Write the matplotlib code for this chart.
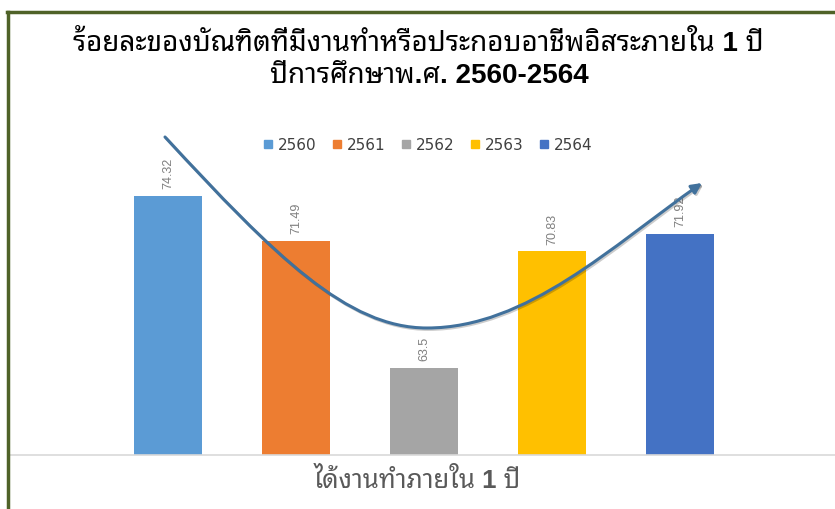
import matplotlib
matplotlib.use('Agg')
from matplotlib import pyplot as plt
from matplotlib.path import Path
from matplotlib.patches import FancyArrowPatch
from matplotlib.lines import Line2D
import matplotlib.patheffects as pe

years = ['2560', '2561', '2562', '2563', '2564']
values = [74.32, 71.49, 63.5, 70.83, 71.92]
colors = ['#5B9BD5', '#ED7D31', '#A5A5A5', '#FFC000', '#4472C4']
title1 = 'ร้อยละของบัณฑิตที่มีงานทำหรือประกอบอาชีพอิสระภายใน 1 ปี'
title2 = 'ปีการศึกษาพ.ศ. 2560-2564'
xlabel = 'ได้งานทำภายใน 1 ปี'

thai = ['Liberation Sans', 'Noto Sans Thai Looped', 'DejaVu Sans']
W, H = 835, 509
fig = plt.figure(figsize=(W / 100, H / 100), dpi=100)

ax = fig.add_axes([10 / W, 1 - 455 / H, 1 - 10 / W, (455 - 137) / H])
x = list(range(len(years)))
bars = ax.bar(x, values, width=68 / 128, color=colors, zorder=2)
for xi, v in zip(x, values):
    ax.annotate(f'{v:g}', (xi, v), xytext=(0, 4.5), textcoords='offset points',
                rotation=90, ha='center', va='bottom', fontsize=9,
                color='#7F7F7F', family='Liberation Sans')
ax.set_xlim(-1.234, 5.211)
ax.set_ylim(58, 78)
for s in ['top', 'right', 'left']:
    ax.spines[s].set_visible(False)
ax.spines['bottom'].set_color('#D9D9D9')
ax.spines['bottom'].set_linewidth(1.2)
ax.set_xticks([])
ax.set_yticks([])

# legend
handles = [Line2D([], [], marker='s', linestyle='none', markersize=5.5,
                  markerfacecolor=c, markeredgecolor=c) for c in colors]
fig.legend(handles, years, loc='center', bbox_to_anchor=(428 / W, 1 - 145 / H),
           ncol=5, frameon=False, handlelength=0.6,
           handletextpad=0.35, columnspacing=1.05, labelcolor='#404040',
           prop={'family': 'DejaVu Sans', 'size': 11})

# titles
fig.text(418 / W, 1 - 44 / H, title1, ha='center', va='center', fontsize=20,
         weight='bold', family=thai, color='black')
fig.text(429 / W, 1 - 76 / H, title2, ha='center', va='center', fontsize=20,
         weight='bold', family=thai, color='black')
fig.text(417 / W, 1 - 480 / H, xlabel, ha='center', va='center', fontsize=18.5,
         weight='bold', family=thai, color='#595959')

# trend arrow (pixel coordinates from the top-left corner)
pts = [(165, 137), (275, 256), (347, 328), (427, 328),
       (527, 328), (612, 246), (702, 183)]
fpts = [(px / W, 1 - py / H) for px, py in pts]
path = Path(fpts, [Path.MOVETO] + [Path.CURVE4] * 6)
arr = FancyArrowPatch(path=path, arrowstyle='-|>,head_length=6,head_width=3',
                      color='#41719C', lw=2.2, transform=fig.transFigure,
                      zorder=5,
                      path_effects=[pe.SimpleLineShadow(offset=(1, -1), alpha=0.2),
                                    pe.Normal()])
fig.patches.append(arr)

# green frame
fig.add_artist(Line2D([7.5 / W, 7.5 / W], [0, 1 - 12 / H], color='#4F6228', lw=2.5))
fig.add_artist(Line2D([6.5 / W, 1], [1 - 12 / H, 1 - 12 / H], color='#4F6228', lw=2.5))

fig.savefig('out.png', dpi=100)
